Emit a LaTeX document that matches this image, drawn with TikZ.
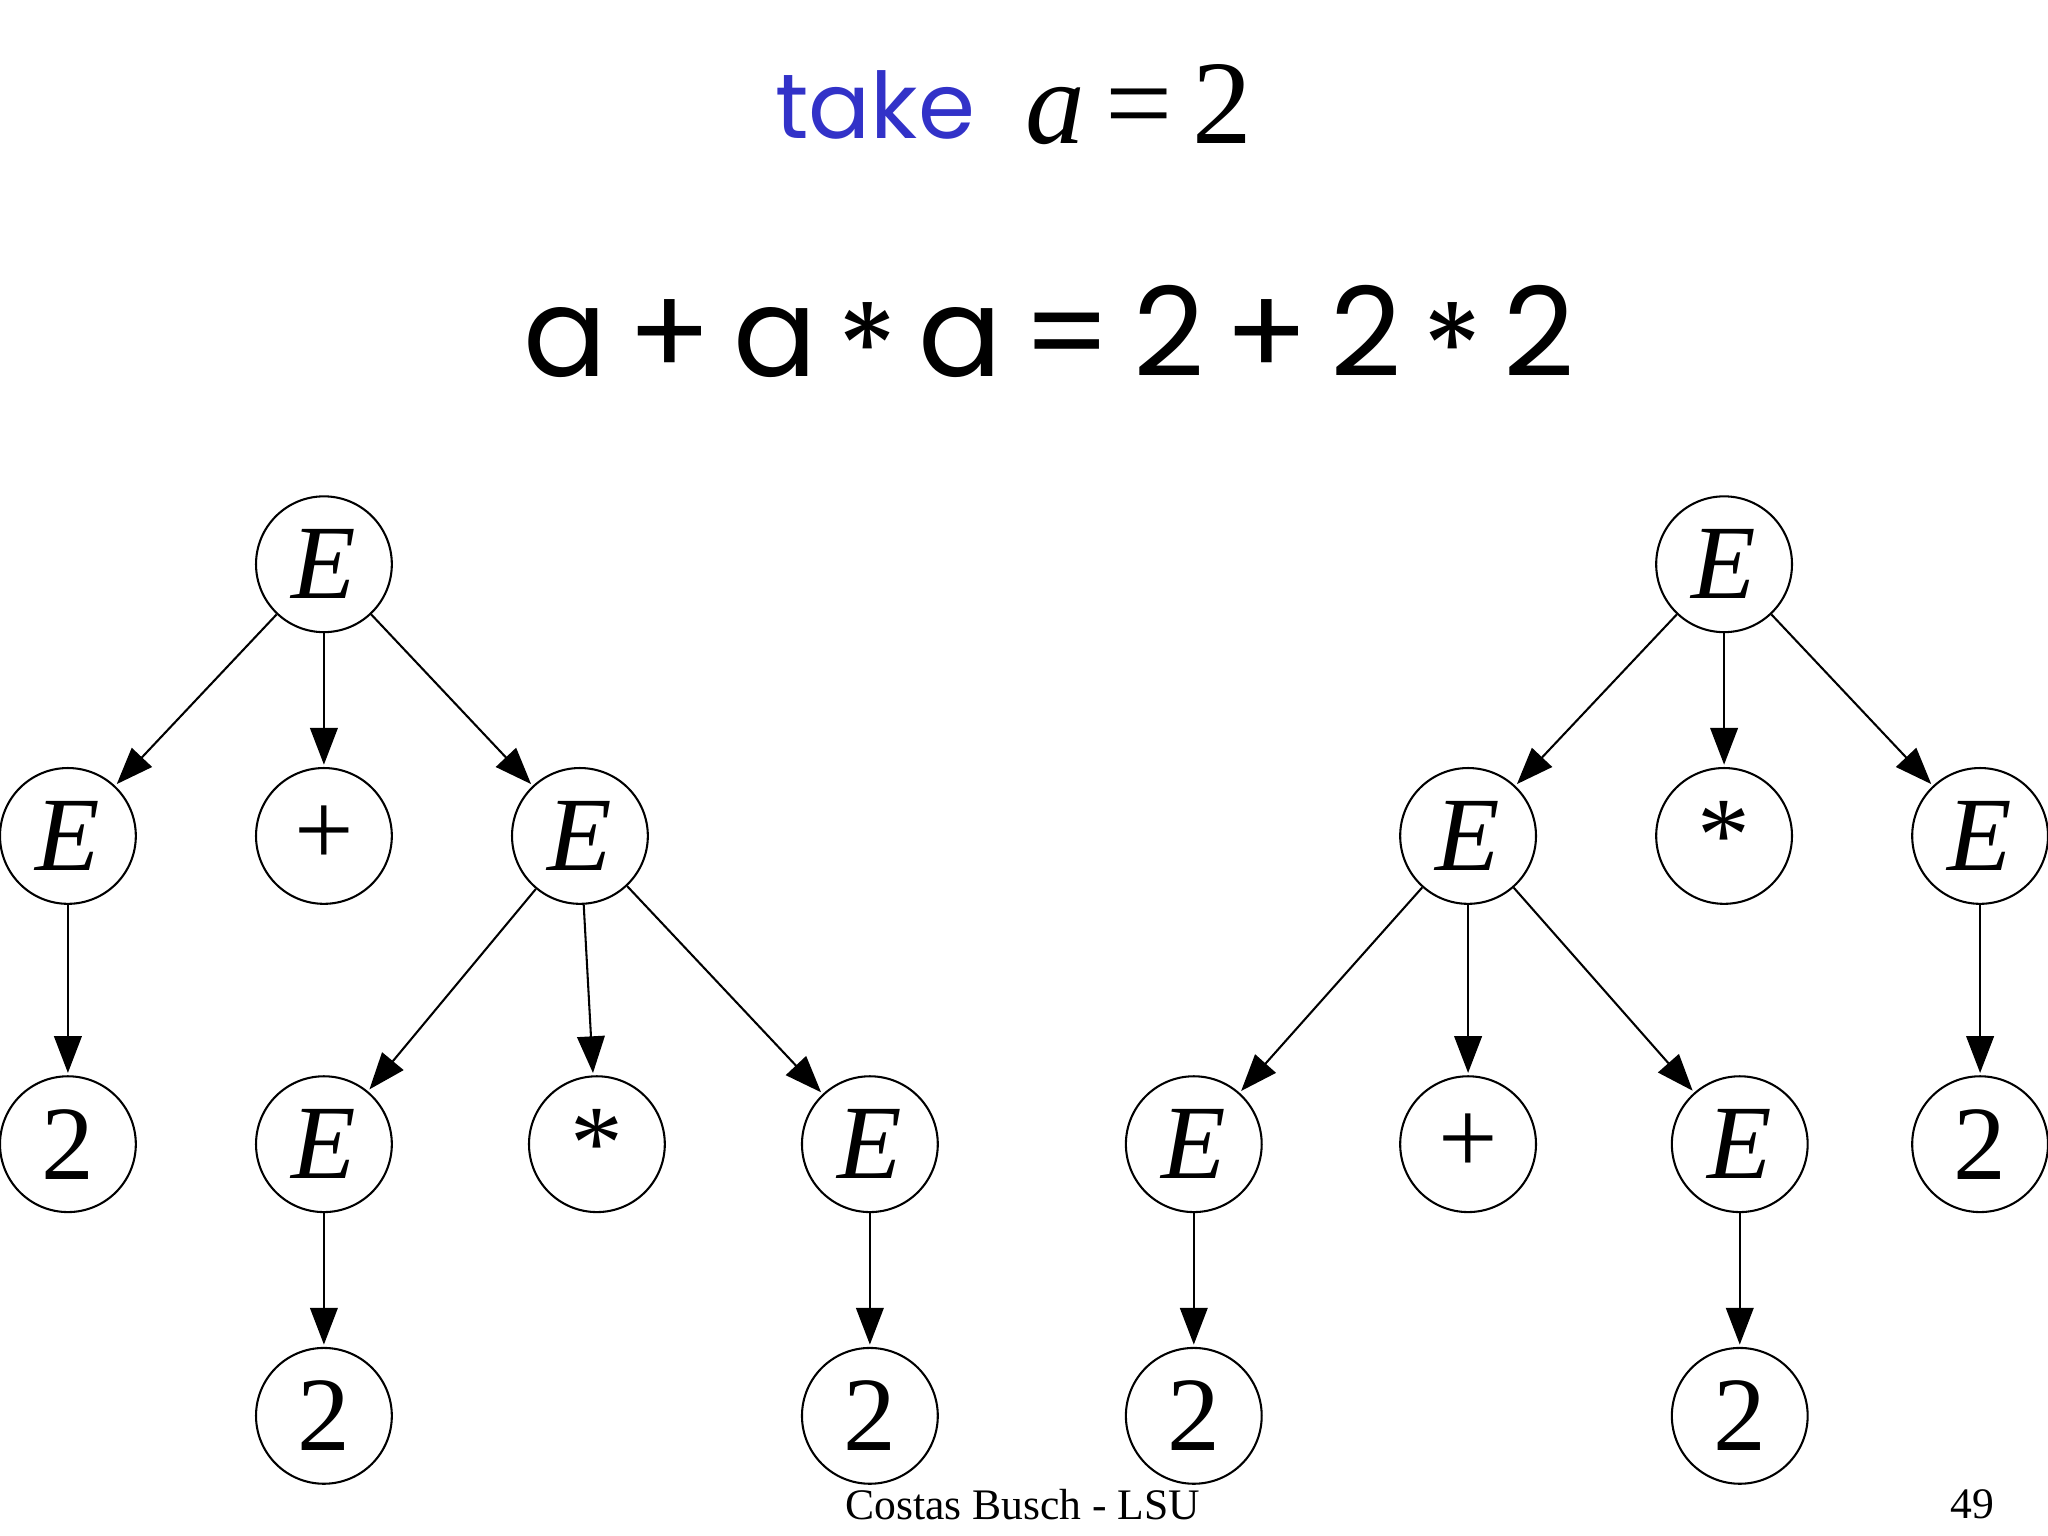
\documentclass[tikz,border=0pt]{standalone}
\usepackage{fontspec}
\setmainfont{Liberation Serif}
\newfontfamily\comic{Poppins}
\usetikzlibrary{arrows.meta}
\definecolor{tblue}{RGB}{50,50,200}
\newcommand{\myast}{\raisebox{-0.25ex}{*}}
\begin{document}
\begin{tikzpicture}[x=0.02cm,y=-0.02cm,
  nd/.style={circle,draw,line width=0.9pt,minimum size=2.08cm,inner sep=0pt,font=\fontsize{46}{52}\selectfont},
  ar/.style={-{Triangle[length=16pt,width=12pt]},line width=0.9pt,shorten >=1pt}]
\useasboundingbox (0,0) rectangle (1568,1176);
\node[font=\comic\fontsize{40}{48}\selectfont,text=tblue] (take) at (670,80) {take};
\node[font=\fontsize{52}{60}\selectfont] (aeq) at (872,80) {\textit{a}\,=\,2};
\node[font=\comic\fontsize{54}{62}\selectfont] (expr) at (803,260) {a\,+\,a\,\myast\,a\,=\,2\,+\,2\,\myast\,2};
% left tree
\node[nd] (l0) at (248,432) {\textit{E}};
\node[nd] (l1) at (52,640) {\textit{E}};
\node[nd] (l2) at (248,640) {+};
\node[nd] (l3) at (444,640) {\textit{E}};
\node[nd] (l4) at (52,876) {2};
\node[nd] (l5) at (248,876) {\textit{E}};
\node[nd] (l6) at (457,876) {\myast};
\node[nd] (l7) at (666,876) {\textit{E}};
\node[nd] (l8) at (248,1084) {2};
\node[nd] (l9) at (666,1084) {2};
\foreach \a/\b in {l0/l1,l0/l2,l0/l3,l1/l4,l3/l5,l3/l6,l3/l7,l5/l8,l7/l9}
  \draw[ar] (\a) -- (\b);
% right tree
\node[nd] (r0) at (1320,432) {\textit{E}};
\node[nd] (r1) at (1124,640) {\textit{E}};
\node[nd] (r2) at (1320,640) {\myast};
\node[nd] (r3) at (1516,640) {\textit{E}};
\node[nd] (r4) at (1516,876) {2};
\node[nd] (r5) at (914,876) {\textit{E}};
\node[nd] (r6) at (1124,876) {+};
\node[nd] (r7) at (1332,876) {\textit{E}};
\node[nd] (r8) at (914,1084) {2};
\node[nd] (r9) at (1332,1084) {2};
\foreach \a/\b in {r0/r1,r0/r2,r0/r3,r3/r4,r1/r5,r1/r6,r1/r7,r5/r8,r7/r9}
  \draw[ar] (\a) -- (\b);
\node[font=\fontsize{19}{23}\selectfont] (foot) at (783,1152) {Costas Busch - LSU};
\node[font=\fontsize{19}{23}\selectfont] (pg) at (1510,1152) {49};
\end{tikzpicture}
\end{document}
